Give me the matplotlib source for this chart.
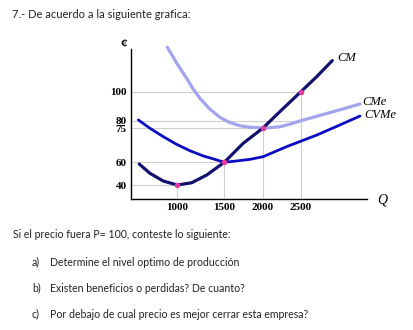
import numpy as np
import matplotlib
matplotlib.use("Agg")
from matplotlib import pyplot as plt

# curve data (Q, cents)
q_cm = [595, 709, 851, 1000, 1153, 1313, 1500, 1747, 2000, 2248, 2500, 2705, 2909]
cm = [58.5, 50.3, 43.5, 40, 42, 48.8, 60, 68.4, 75, 87.4, 100, 110.3, 121.4]

q_cme = [894, 994, 1100, 1170, 1241, 1348, 1454, 1574, 1704, 1835, 1965, 2000, 2226, 2360,
         2500, 2922, 3270]
cme = [130.6, 119.6, 109.2, 101.7, 95.4, 87.9, 82.3, 78.7, 76.7, 75.7, 75.4, 75, 76, 77.8,
       80, 86.2, 91.5]

q_cvme = [585, 709, 851, 994, 1135, 1277, 1401, 1500, 1661, 1835, 2008, 2313, 2705, 3009, 3270]
cvme = [80.5, 75, 71.3, 67.9, 65.1, 62.8, 61.3, 60, 60.6, 61.3, 62.5, 66.9, 72, 77.2, 83.2]

# marked points and their guide lines
q_pts = [1000, 1500, 2000, 2500]
p_pts = [40, 60, 75, 100]
x_ticks = [1000, 1500, 2000, 2500]
y_ticks = [40, 60, 75, 80, 100]
h_lines = [(100, 2500), (80, 2500), (75, 2000), (60, 1500), (40, 1000)]

# the drawing is not to scale, so map values through piecewise scales
xk = [0, 507, 1000, 1500, 2000, 2500, 3400, 5000]
xp = [83.4, 131, 177.3, 224.3, 262.7, 301, 370, 492.6]
yk = [0, 40, 60, 75, 80, 100, 200]
yp = [330 - 230.4, 330 - 185, 330 - 162.3, 330 - 128.3, 330 - 120.7, 330 - 91.7, 330 + 53.3]


def fx(v):
    return np.interp(v, xk, xp)


def fx_inv(p):
    return np.interp(p, xp, xk)


def fy(v):
    return np.interp(v, yk, yp)


def fy_inv(p):
    return np.interp(p, yp, yk)


fig = plt.figure(figsize=(4.13, 3.3), dpi=100)
ax = fig.add_axes([131 / 413, 1 - 199 / 330, 236 / 413, 150 / 330])
ax.set_xscale("function", functions=(fx, fx_inv))
ax.set_yscale("function", functions=(fy, fy_inv))
ax.set_xlim(507, 3362)
ax.set_ylim(27.7, 129.4)

grid_col = "#cfcfcf"
for y, xe in h_lines:
    ax.plot([507, xe], [y, y], color=grid_col, lw=0.8, zorder=1)
for q, p in zip(q_pts, p_pts):
    ax.plot([q, q], [27.7, p], color=grid_col, lw=0.8, zorder=1)

ax.plot(q_cme, cme, color="#a3a3ee", lw=2.3, solid_capstyle="round", clip_on=False, zorder=2)
ax.plot(q_cvme, cvme, color="#0b0bc4", lw=2.0, solid_capstyle="round", clip_on=False, zorder=3)
ax.plot(q_cm, cm, color="#12126e", lw=2.3, solid_capstyle="round", clip_on=False, zorder=4)
ax.plot(q_pts, p_pts, "o", color="#e23a9e", ms=4, mec="none", zorder=5)

serif_i = dict(family="Liberation Serif", style="italic")
ax.text(2970, 123.2, "CM", fontsize=9, va="center", **serif_i)
ax.text(3296, 93.1, "CMe", fontsize=9, va="center", clip_on=False, **serif_i)
ax.text(3322, 83.9, "CVMe", fontsize=9, va="center", clip_on=False, **serif_i)
ax.text(1.042, -0.007, "Q", fontsize=10, va="center", ha="left", transform=ax.transAxes, **serif_i)
ax.text(-0.03, 1.035, "¢", fontsize=9.5, fontweight="bold", family="Liberation Serif",
        va="center", ha="center", transform=ax.transAxes)

ax.set_xticks(x_ticks)
ax.set_xticklabels([str(t) for t in x_ticks])
ax.set_yticks(y_ticks)
ax.set_yticklabels([str(t) for t in y_ticks])
ax.tick_params(length=0, pad=3, labelsize=8)
for lab in ax.get_xticklabels() + ax.get_yticklabels():
    lab.set_family("Liberation Serif")
    lab.set_fontweight("bold")
ax.spines["top"].set_visible(False)
ax.spines["right"].set_visible(False)
ax.spines["left"].set_linewidth(1.0)
ax.spines["bottom"].set_linewidth(1.0)
ax.patch.set_alpha(0)

txt = dict(family="Lato", fontsize=7.6, color="#222222", va="center")
fig.text(12 / 413, 1 - 15 / 330, "7.- De acuerdo a la siguiente grafica:",
         **dict(txt, fontsize=8.0))
fig.text(13 / 413, 1 - 235 / 330, "Si el precio fuera P= 100, conteste lo siguiente:", **txt)
fig.text(32 / 413, 1 - 262 / 330, "a)", **txt)
fig.text(50 / 413, 1 - 262 / 330, "Determine el nivel optimo de producción", **txt)
fig.text(32 / 413, 1 - 288 / 330, "b)", **txt)
fig.text(50 / 413, 1 - 288 / 330, "Existen beneficios o perdidas? De cuanto?", **txt)
fig.text(32 / 413, 1 - 314 / 330, "c)", **txt)
fig.text(50 / 413, 1 - 314 / 330, "Por debajo de cual precio es mejor cerrar esta empresa?", **txt)

fig.savefig("out.png", dpi=100)
